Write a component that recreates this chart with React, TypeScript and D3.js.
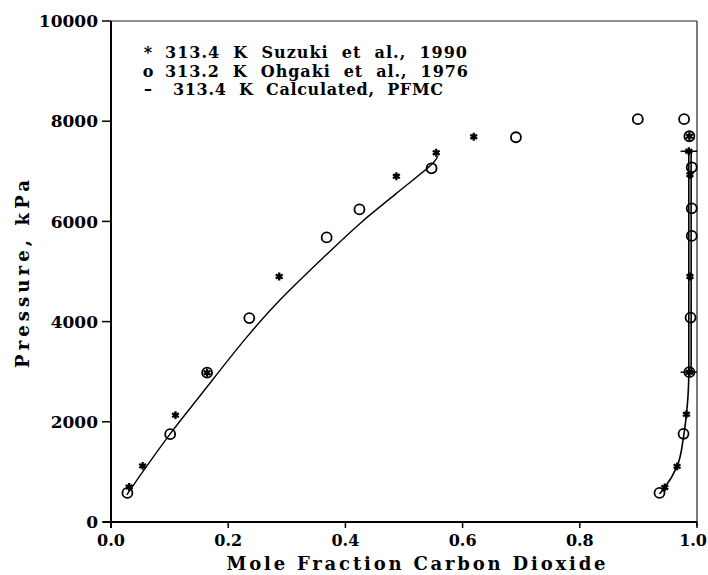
import React from "react";
import * as d3 from "d3";

// axis ticks
const xTicks = [0, 0.2, 0.4, 0.6, 0.8, 1.0];
const yTicks = [0, 2000, 4000, 6000, 8000, 10000];

// 313.4 K Suzuki et al., 1990  [mole fraction CO2, pressure kPa]
const suzuki = [
  [0.031, 700], [0.054, 1120], [0.110, 2133], [0.164, 2980], [0.287, 4900],
  [0.487, 6900], [0.555, 7370], [0.619, 7690],
  [0.945, 690], [0.966, 1110], [0.982, 2150], [0.987, 2990], [0.988, 4900],
  [0.988, 6930], [0.986, 7400], [0.987, 7700],
];

// 313.2 K Ohgaki et al., 1976
const ohgaki = [
  [0.028, 580], [0.101, 1753], [0.164, 2980], [0.236, 4070], [0.368, 5680],
  [0.424, 6240], [0.547, 7060], [0.691, 7680], [0.899, 8040],
  [0.936, 580], [0.977, 1760], [0.987, 2990], [0.989, 4080], [0.991, 5710],
  [0.991, 6260], [0.991, 7080], [0.987, 7700], [0.978, 8040],
];

// 313.4 K calculated, PFMC
const calcLiquid = [
  [0.027, 540], [0.054, 1000], [0.101, 1760], [0.153, 2535], [0.231, 3680],
  [0.283, 4365], [0.368, 5340], [0.425, 5960], [0.487, 6560], [0.55, 7170],
  [0.558, 7300],
];
const calcVapor = [
  [0.936, 560], [0.945, 690], [0.966, 1110], [0.977, 1700], [0.982, 2150],
  [0.986, 2990], [0.986, 7400],
];
const calcVaporEdge = [
  [0.990, 2990], [0.990, 7400],
];
const tieLines = [
  [0.972, 1.0, 2990],
  [0.972, 1.0, 7400],
];

const legendMarks = ["*", "o", "–"];
const legendLabels = [
  "313.4  K  Suzuki  et  al.,  1990",
  "313.2  K  Ohgaki  et  al.,  1976",
  "313.4  K  Calculated,  PFMC",
];
const legendWidths = [302, 303, 270];

const W = 708;
const H = 575;
const font = "'DejaVu Serif', serif";

export default function App() {
  const x = d3.scaleLinear().domain([0, 1]).range([111, 697]);
  const y = d3.scaleLinear().domain([0, 10000]).range([522, 21]);

  const liquidLine = d3
    .line<number[]>()
    .x((d) => x(d[0]))
    .y((d) => y(d[1]))
    .curve(d3.curveCatmullRom.alpha(0.5));
  const vaporLine = d3
    .line<number[]>()
    .x((d) => x(d[0]))
    .y((d) => y(d[1]))
    .curve(d3.curveMonotoneY);

  const star = d3.symbol().type(d3.symbolAsterisk).size(44)();

  return (
    <svg
      width={W}
      height={H}
      style={{ position: "absolute", left: 0, top: 0, background: "#fff" }}
      fontFamily={font}
    >
      {/* frame */}
      <line x1={x(0)} x2={x(1)} y1={y(10000)} y2={y(10000)} stroke="#222" strokeWidth={1.2} />
      <line x1={x(1)} x2={x(1)} y1={y(10000)} y2={y(0) + 4} stroke="#222" strokeWidth={1.2} />
      <line x1={x(0)} x2={x(0)} y1={y(10000)} y2={y(0) + 6} stroke="#000" strokeWidth={2} />
      <line x1={x(0) - 8} x2={x(1)} y1={y(0)} y2={y(0)} stroke="#000" strokeWidth={2} />

      {/* y axis */}
      {yTicks.map((t) => (
        <g key={"y" + t}>
          <line x1={x(0) - 9} x2={x(0)} y1={y(t)} y2={y(t)} stroke="#000" strokeWidth={1.5} />
          <text x={x(0) - 13} y={y(t)} dy="0.36em" textAnchor="end" fontSize={17} fontWeight="bold">
            {t}
          </text>
        </g>
      ))}

      {/* x axis */}
      {xTicks.map((t, i) => (
        <g key={"x" + t}>
          <line x1={x(t)} x2={x(t)} y1={y(0)} y2={y(0) + 6} stroke="#000" strokeWidth={1.5} />
          <text
            x={i === xTicks.length - 1 ? W - 1 : x(t)}
            y={546}
            textAnchor={i === xTicks.length - 1 ? "end" : "middle"}
            fontSize={16}
            fontWeight="bold"
          >
            {t.toFixed(1)}
          </text>
        </g>
      ))}

      <text
        x={416}
        y={570}
        textAnchor="middle"
        fontSize={18}
        fontWeight="bold"
        textLength={379}
        lengthAdjust="spacing"
      >
        Mole Fraction Carbon Dioxide
      </text>
      <text
        transform={`translate(29, ${y(4950)}) rotate(-90)`}
        textAnchor="middle"
        fontSize={18}
        fontWeight="bold"
        textLength={188}
        lengthAdjust="spacing"
      >
        Pressure, kPa
      </text>

      {/* legend */}
      {legendLabels.map((l, i) => (
        <g key={l} fontWeight="bold" fontSize={16}>
          <text x={148} y={58 + i * 18.5} textAnchor="middle">
            {legendMarks[i]}
          </text>
          <text
            x={i === 2 ? 173 : 165}
            y={58 + i * 18.5}
            textLength={legendWidths[i]}
            lengthAdjust="spacing"
            style={{ whiteSpace: "pre" }}
          >
            {l}
          </text>
        </g>
      ))}

      {/* calculated curves */}
      <path d={liquidLine(calcLiquid) || ""} fill="none" stroke="#000" strokeWidth={1.4} />
      <path d={vaporLine(calcVapor) || ""} fill="none" stroke="#000" strokeWidth={1.6} />
      <path d={vaporLine(calcVaporEdge) || ""} fill="none" stroke="#000" strokeWidth={1.6} />
      {tieLines.map((d, i) => (
        <line key={"tie" + i} x1={x(d[0])} x2={x(d[1])} y1={y(d[2])} y2={y(d[2])} stroke="#000" strokeWidth={1.5} />
      ))}

      {/* data */}
      {ohgaki.map((d, i) => (
        <circle key={"o" + i} cx={x(d[0])} cy={y(d[1])} r={5} fill="none" stroke="#000" strokeWidth={1.8} />
      ))}
      {suzuki.map((d, i) => (
        <path
          key={"s" + i}
          d={star || ""}
          transform={`translate(${x(d[0])},${y(d[1])})`}
          fill="none"
          stroke="#000"
          strokeWidth={2.3}
        />
      ))}
    </svg>
  );
}
